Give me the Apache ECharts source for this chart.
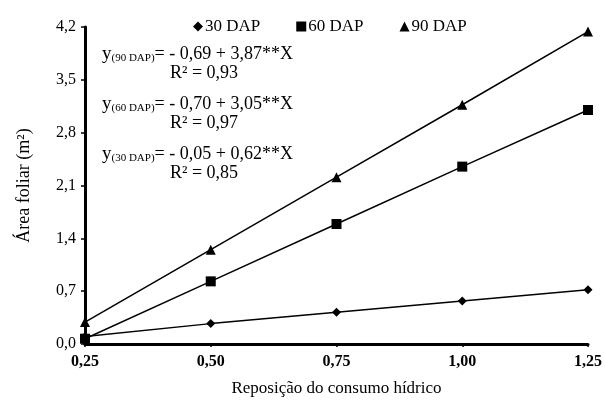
<!DOCTYPE html>
<html><head><meta charset="utf-8">
<script src="https://cdn.jsdelivr.net/npm/echarts@6/dist/echarts.min.js"></script>
<style>html,body{margin:0;padding:0;background:#fff}#c{width:605px;height:403px}</style>
</head><body><div id="c"></div>
<script>
const xValues = [0.25, 0.50, 0.75, 1.00, 1.25];
const seriesNames = ['30 DAP', '60 DAP', '90 DAP'];
const dap30 = [0.10, 0.27, 0.42, 0.57, 0.72];
const dap60 = [0.07, 0.83, 1.59, 2.35, 3.10];
const dap90 = [0.29, 1.25, 2.21, 3.17, 4.14];
const yTicks = [0, 0.7, 1.4, 2.1, 2.8, 3.5, 4.2];
const equations = [
  ['90 DAP', '- 0,69 + 3,87**X', '0,93'],
  ['60 DAP', '- 0,70 + 3,05**X', '0,97'],
  ['30 DAP', '- 0,05 + 0,62**X', '0,85']
];
const font = 'Liberation Serif';
const chart = echarts.init(document.getElementById('c'));
function pts(arr){ return xValues.map((x,i)=>[x, arr[i]]); }
const symbols = ['diamond', 'rect', 'triangle'];
const sizes = [9, 10, 10];
const datas = [dap30, dap60, dap90];
const eqY = [45, 95, 145];
const graphics = [];
equations.forEach((e, i) => {
  graphics.push({type:'text', left: 102, top: eqY[i], style:{
    text: '{y|y}{s|(' + e[0] + ')}{t|= ' + e[1] + '}',
    rich: {
      y:{fontFamily:font, fontSize:19, fill:'#000'},
      s:{fontFamily:font, fontSize:11, fill:'#000', padding:[7,0,0,0]},
      t:{fontFamily:font, fontSize:18, fill:'#000'}
    }
  }});
  graphics.push({type:'text', left: 170, top: eqY[i] + 19, style:{
    text: 'R² = ' + e[2], fontFamily: font, fontSize: 18, fill:'#000'
  }});
});
chart.setOption({
  animation: false,
  textStyle: {fontFamily: font, color:'#000'},
  legend: {
    top: 13, left: 188, itemGap: 36, itemWidth: 10, itemHeight: 10,
    data: seriesNames.map((n,i)=>({name:n, icon: symbols[i]})),
    textStyle: {fontFamily: font, fontSize: 17, color:'#000', padding:[0,0,0,-3]}
  },
  grid: {left: 85, right: 12, top: 27, bottom: 59, containLabel: false},
  xAxis: {
    type: 'value', min: 0.25, max: 1.25, interval: 0.25,
    name: 'Reposição do consumo hídrico', nameLocation: 'middle', nameGap: 36,
    nameTextStyle: {fontFamily: font, fontSize: 17, color:'#000'},
    axisLine: {show: true, lineStyle: {color:'#000', width: 3}},
    axisTick: {show: true, length: 3, lineStyle:{color:'#000', width:1.5}},
    axisLabel: {fontFamily: font, fontSize: 16, color:'#000', fontWeight:'bold', margin: 10,
      formatter: v => v.toFixed(2).replace('.', ',')},
    splitLine: {show: false}
  },
  yAxis: {
    type: 'value', min: 0, max: 4.2, interval: 0.7,
    name: 'Área foliar (m²)', nameLocation: 'middle', nameGap: 52,
    nameTextStyle: {fontFamily: font, fontSize: 18, color:'#000'},
    axisLine: {show: true, lineStyle: {color:'#000', width: 3}},
    axisTick: {show: true, length: 4, lineStyle:{color:'#000', width:1.5}},
    axisLabel: {fontFamily: font, fontSize: 16, color:'#000', margin: 9,
      formatter: v => yTicks.includes(+v.toFixed(1)) ? v.toFixed(1).replace('.', ',') : ''},
    splitLine: {show: false}
  },
  series: datas.map((d,i)=>({
    name: seriesNames[i], type: 'line', data: pts(d),
    symbol: symbols[i], symbolSize: sizes[i], showAllSymbol: true,
    itemStyle: {color:'#000'}, lineStyle: {color:'#000', width: 1.5}
  })),
  graphic: graphics
});
</script></body></html>
